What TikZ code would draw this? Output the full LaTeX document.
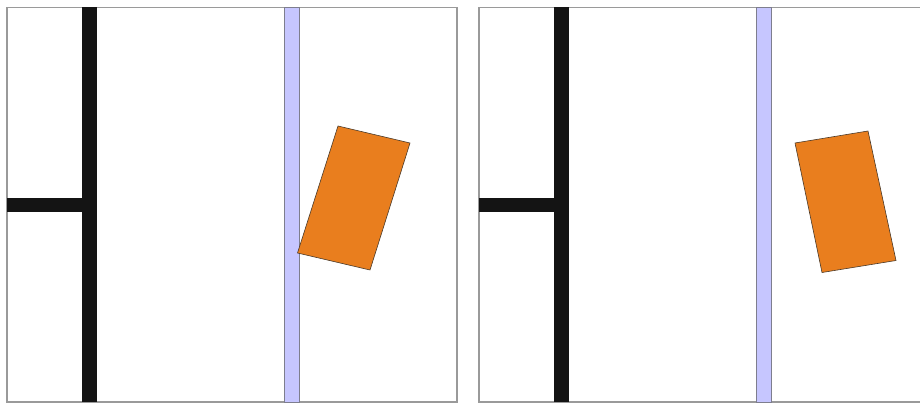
\documentclass[tikz,border=0pt]{standalone}
\definecolor{framegray}{HTML}{9A9A9A}
\definecolor{wallblack}{HTML}{141414}
\definecolor{glassblue}{HTML}{C6C6FF}
\definecolor{glassedge}{HTML}{7E7E8E}
\definecolor{boxorange}{HTML}{E97E1E}
\definecolor{boxedge}{HTML}{4A3A2A}
\begin{document}
\begin{tikzpicture}[x=1pt,y=-1pt,
  panel/.style={draw=framegray,line width=1.3pt,fill=white},
  wall/.style={fill=wallblack,draw=none},
  glass/.style={fill=glassblue,draw=glassedge,line width=1pt},
  crate/.style={fill=boxorange,draw=boxedge,line width=0.6pt,line join=round}]
\useasboundingbox (0,0) rectangle (920,403);
% left panel
\draw[panel] (7,7.5) rectangle (457,402);
\fill[wall] (82,7.5) rectangle (97,402);
\fill[wall] (7,198.5) rectangle (82,212.5);
\draw[glass] (284.5,7.5) rectangle (299.5,402);
\draw[crate] (338,126) -- (410,143) -- (370,270) -- (297.5,253) -- cycle;
% right panel (its right edge lies beyond the picture)
\draw[panel] (479,7.5) rectangle (925,402);
\fill[wall] (553.5,7.5) rectangle (569,402);
\fill[wall] (479,198.5) rectangle (553.5,212.5);
\draw[glass] (756.5,7.5) rectangle (771.5,402);
\draw[crate] (795,143) -- (868,131) -- (896,260.5) -- (822,272.5) -- cycle;
\end{tikzpicture}
\end{document}
